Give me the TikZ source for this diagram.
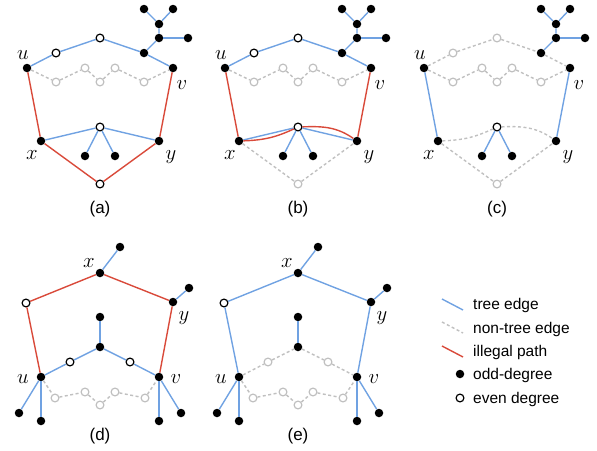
\documentclass[tikz,border=0pt]{standalone}
\usepackage{fontspec}
\setmainfont{Liberation Sans}
\definecolor{tblue}{RGB}{112,162,226}
\definecolor{ired}{RGB}{217,74,58}
\definecolor{ngray}{RGB}{192,192,192}
\tikzset{
  bdot/.style={circle, fill=black, inner sep=0pt, minimum size=8.5pt},
  wdot/.style={circle, draw=black, fill=white, line width=1.2pt, inner sep=0pt, minimum size=7.8pt},
  gdot/.style={circle, draw=ngray, fill=white, line width=1.2pt, inner sep=0pt, minimum size=7.8pt},
  tree/.style={draw=tblue, line width=1.4pt},
  ntree/.style={draw=ngray, line width=1.4pt, dash pattern=on 3pt off 2.5pt},
  ill/.style={draw=ired, line width=1.4pt},
  mlab/.style={anchor=base, inner sep=0pt, font=\fontsize{22}{26}\selectfont},
  capt/.style={anchor=base, inner sep=0pt, font=\fontsize{17}{20}\selectfont},
  leg/.style={anchor=base west, inner sep=0pt, font=\fontsize{15.5}{18}\selectfont},
}
\begin{document}
\begin{tikzpicture}[x=1pt,y=-1pt]
\useasboundingbox (0,0) rectangle (597,450);

% ---------------- panel (a) ----------------
\begin{scope}[shift={(0,0)}]
\node[bdot] (au) at (27,68) {};
\node[wdot] (ap1) at (56,53) {};
\node[wdot] (ap2) at (100,38) {};
\node[bdot] (atp) at (144,53) {};
\node[bdot] (ab1) at (159,38) {};
\node[bdot] (ab2) at (159,24) {};
\node[bdot] (al1) at (144,9) {};
\node[bdot] (al2) at (173,9) {};
\node[bdot] (ar) at (188,38) {};
\node[bdot] (av) at (173,68) {};
\node[gdot] (ag1) at (56,82) {};
\node[gdot] (ag2) at (85,68) {};
\node[gdot] (ag3) at (100,82) {};
\node[gdot] (ag4) at (115,68) {};
\node[gdot] (ag5) at (144,82) {};
\node[bdot] (ax) at (41,141) {};
\node[bdot] (ay) at (159,141) {};
\node[wdot] (am) at (100,127) {};
\node[bdot] (ak1) at (85,156) {};
\node[bdot] (ak2) at (115,156) {};
\node[wdot] (aq) at (100,184) {};
\draw[tree] (au) -- (ap1) -- (ap2) -- (atp) -- (av);
\draw[tree] (atp) -- (ab1) -- (ab2) -- (al1);
\draw[tree] (ab2) -- (al2);
\draw[tree] (ab1) -- (ar);
\draw[ntree] (au) -- (ag1) -- (ag2) -- (ag3) -- (ag4) -- (ag5) -- (av);
\draw[tree] (ax) -- (am) -- (ay);
\draw[tree] (am) -- (ak1);
\draw[tree] (am) -- (ak2);
\draw[ill] (au) -- (ax);
\draw[ill] (av) -- (ay);
\draw[ill] (ax) -- (aq) -- (ay);
\node[mlab] (alu) at (23,59) {$u$};
\node[mlab] (alv) at (182,89) {$v$};
\node[mlab] (alx) at (32,159) {$x$};
\node[mlab] (aly) at (171,159) {$y$};
\node[capt] (acap) at (100,213) {(a)};
\end{scope}

% ---------------- panel (b) ----------------
\begin{scope}[shift={(198,0)}]
\node[bdot] (bu) at (27,68) {};
\node[wdot] (bp1) at (56,53) {};
\node[wdot] (bp2) at (100,38) {};
\node[bdot] (btp) at (144,53) {};
\node[bdot] (bb1) at (159,38) {};
\node[bdot] (bb2) at (159,24) {};
\node[bdot] (bl1) at (144,9) {};
\node[bdot] (bl2) at (173,9) {};
\node[bdot] (brr) at (188,38) {};
\node[bdot] (bv) at (173,68) {};
\node[gdot] (bg1) at (56,82) {};
\node[gdot] (bg2) at (85,68) {};
\node[gdot] (bg3) at (100,82) {};
\node[gdot] (bg4) at (115,68) {};
\node[gdot] (bg5) at (144,82) {};
\node[bdot] (bx) at (41,141) {};
\node[bdot] (by) at (159,141) {};
\node[wdot] (bm) at (100,127) {};
\node[bdot] (bk1) at (85,156) {};
\node[bdot] (bk2) at (115,156) {};
\node[gdot] (bq) at (100,184) {};
\draw[tree] (bu) -- (bp1) -- (bp2) -- (btp) -- (bv);
\draw[tree] (btp) -- (bb1) -- (bb2) -- (bl1);
\draw[tree] (bb2) -- (bl2);
\draw[tree] (bb1) -- (brr);
\draw[ntree] (bu) -- (bg1) -- (bg2) -- (bg3) -- (bg4) -- (bg5) -- (bv);
\draw[ntree] (bx) -- (bq) -- (by);
\draw[tree] (bx) -- (bm) -- (by);
\draw[tree] (bm) -- (bk1);
\draw[tree] (bm) -- (bk2);
\draw[ill] (bu) -- (bx);
\draw[ill] (bv) -- (by);
\draw[ill] (bx) to[out=2,in=205] (bm);
\draw[ill] (bm) to[out=2,in=145] (by);
\node[mlab] (blu) at (23,59) {$u$};
\node[mlab] (blv) at (182,89) {$v$};
\node[mlab] (blx) at (32,159) {$x$};
\node[mlab] (bly) at (171,159) {$y$};
\node[capt] (bcap) at (100,213) {(b)};
\end{scope}

% ---------------- panel (c) ----------------
\begin{scope}[shift={(397,0)}]
\node[bdot] (cu) at (27,68) {};
\node[gdot] (cp1) at (56,53) {};
\node[gdot] (cp2) at (100,38) {};
\node[bdot] (ctp) at (144,53) {};
\node[bdot] (cb1) at (159,38) {};
\node[bdot] (cb2) at (159,24) {};
\node[bdot] (cl1) at (144,9) {};
\node[bdot] (cl2) at (173,9) {};
\node[bdot] (crr) at (188,38) {};
\node[bdot] (cv) at (173,68) {};
\node[gdot] (cg1) at (56,82) {};
\node[gdot] (cg2) at (85,68) {};
\node[gdot] (cg3) at (100,82) {};
\node[gdot] (cg4) at (115,68) {};
\node[gdot] (cg5) at (144,82) {};
\node[bdot] (cx) at (41,141) {};
\node[bdot] (cy) at (159,141) {};
\node[wdot] (cm) at (100,127) {};
\node[bdot] (ck1) at (85,156) {};
\node[bdot] (ck2) at (115,156) {};
\node[gdot] (cq) at (100,184) {};
\draw[ntree] (cu) -- (cp1) -- (cp2) -- (ctp) -- (cv);
\draw[tree] (ctp) -- (cb1) -- (cb2) -- (cl1);
\draw[tree] (cb2) -- (cl2);
\draw[tree] (cb1) -- (crr);
\draw[ntree] (cu) -- (cg1) -- (cg2) -- (cg3) -- (cg4) -- (cg5) -- (cv);
\draw[ntree] (cx) -- (cq) -- (cy);
\draw[ntree] (cx) to[out=2,in=205] (cm);
\draw[ntree] (cm) to[out=2,in=145] (cy);
\draw[tree] (cm) -- (ck1);
\draw[tree] (cm) -- (ck2);
\draw[tree] (cu) -- (cx);
\draw[tree] (cv) -- (cy);
\node[mlab] (clu) at (23,59) {$u$};
\node[mlab] (clv) at (182,89) {$v$};
\node[mlab] (clx) at (32,159) {$x$};
\node[mlab] (cly) at (171,159) {$y$};
\node[capt] (ccap) at (100,213) {(c)};
\end{scope}

% ---------------- panel (d) ----------------
\begin{scope}[shift={(0,0)}]
\node[bdot] (dx) at (100,273) {};
\node[bdot] (dxl) at (120,247) {};
\node[wdot] (dop) at (26,303) {};
\node[bdot] (dy) at (173,302) {};
\node[bdot] (dyl) at (189,288) {};
\node[bdot] (dc) at (100,347) {};
\node[bdot] (dct) at (100,317) {};
\node[wdot] (do1) at (70,362) {};
\node[wdot] (do2) at (130,362) {};
\node[bdot] (du) at (41,377) {};
\node[bdot] (dv) at (159,377) {};
\node[bdot] (dul1) at (19,413) {};
\node[bdot] (dul2) at (41,421) {};
\node[bdot] (dvl1) at (159,421) {};
\node[bdot] (dvl2) at (181,413) {};
\node[gdot] (dg1) at (55,398) {};
\node[gdot] (dg2) at (85,392) {};
\node[gdot] (dg3) at (100,405) {};
\node[gdot] (dg4) at (115,392) {};
\node[gdot] (dg5) at (145,398) {};
\draw[ill] (du) -- (dop) -- (dx) -- (dy) -- (dv);
\draw[tree] (dx) -- (dxl);
\draw[tree] (dy) -- (dyl);
\draw[tree] (dc) -- (dct);
\draw[tree] (du) -- (do1) -- (dc) -- (do2) -- (dv);
\draw[tree] (du) -- (dul1);
\draw[tree] (du) -- (dul2);
\draw[tree] (dv) -- (dvl1);
\draw[tree] (dv) -- (dvl2);
\draw[ntree] (du) -- (dg1) -- (dg2) -- (dg3) -- (dg4) -- (dg5) -- (dv);
\node[mlab] (dlx) at (89,267) {$x$};
\node[mlab] (dly) at (184,320) {$y$};
\node[mlab] (dlu) at (23,383) {$u$};
\node[mlab] (dlv) at (176,383) {$v$};
\node[capt] (dcap) at (100,440) {(d)};
\end{scope}

% ---------------- panel (e) ----------------
\begin{scope}[shift={(198,0)}]
\node[bdot] (ex) at (100,273) {};
\node[bdot] (exl) at (120,247) {};
\node[wdot] (eop) at (26,303) {};
\node[bdot] (ey) at (173,302) {};
\node[bdot] (eyl) at (189,288) {};
\node[bdot] (ec) at (100,347) {};
\node[bdot] (ect) at (100,317) {};
\node[gdot] (eo1) at (70,362) {};
\node[gdot] (eo2) at (130,362) {};
\node[bdot] (eu) at (41,377) {};
\node[bdot] (ev) at (159,377) {};
\node[bdot] (eul1) at (19,413) {};
\node[bdot] (eul2) at (41,421) {};
\node[bdot] (evl1) at (159,421) {};
\node[bdot] (evl2) at (181,413) {};
\node[gdot] (eg1) at (55,398) {};
\node[gdot] (eg2) at (85,392) {};
\node[gdot] (eg3) at (100,405) {};
\node[gdot] (eg4) at (115,392) {};
\node[gdot] (eg5) at (145,398) {};
\draw[tree] (eu) -- (eop) -- (ex) -- (ey) -- (ev);
\draw[tree] (ex) -- (exl);
\draw[tree] (ey) -- (eyl);
\draw[tree] (ec) -- (ect);
\draw[ntree] (eu) -- (eo1) -- (ec) -- (eo2) -- (ev);
\draw[tree] (eu) -- (eul1);
\draw[tree] (eu) -- (eul2);
\draw[tree] (ev) -- (evl1);
\draw[tree] (ev) -- (evl2);
\draw[ntree] (eu) -- (eg1) -- (eg2) -- (eg3) -- (eg4) -- (eg5) -- (ev);
\node[mlab] (elx) at (89,267) {$x$};
\node[mlab] (ely) at (184,320) {$y$};
\node[mlab] (elu) at (23,383) {$u$};
\node[mlab] (elv) at (176,383) {$v$};
\node[capt] (ecap) at (100,440) {(e)};
\end{scope}

% ---------------- legend ----------------
\coordinate (t1) at (442,299); \coordinate (t2) at (463,310);
\coordinate (n1) at (442,322); \coordinate (n2) at (463,333);
\coordinate (i1) at (442,346); \coordinate (i2) at (463,357);
\draw[tree] (t1) -- (t2);
\draw[ntree] (n1) -- (n2);
\draw[ill] (i1) -- (i2);
\node[bdot] (lodd) at (460,374) {};
\node[wdot] (leven) at (460,398) {};
\node[leg] (lt) at (473,309) {tree edge};
\node[leg] (ln) at (473,333) {non-tree edge};
\node[leg] (li) at (473,356) {illegal path};
\node[leg] (lo) at (473,379) {odd-degree};
\node[leg] (le) at (473,403) {even degree};
\end{tikzpicture}
\end{document}
